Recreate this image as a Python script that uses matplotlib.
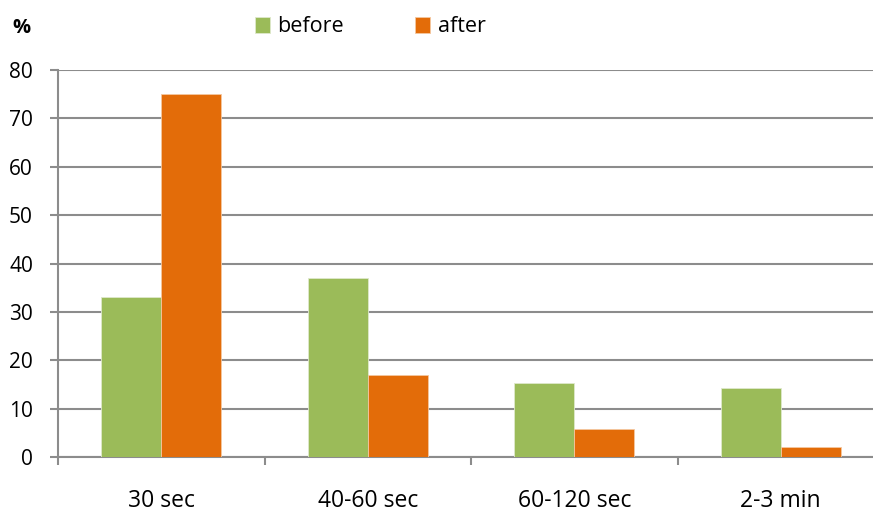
import numpy as np
import matplotlib
matplotlib.use('Agg')
from matplotlib import pyplot as plt

categories = ['30 sec', '40-60 sec', '60-120 sec', '2-3 min']
before = [33.1, 37.1, 15.3, 14.3]
after = [75.1, 16.9, 5.7, 2.1]
yticks = [0, 10, 20, 30, 40, 50, 60, 70, 80]

plt.rcParams['font.family'] = ['Open Sans', 'DejaVu Sans']

W, H = 873, 512
fig = plt.figure(figsize=(W / 100, H / 100), dpi=100)
ax = fig.add_axes([58 / W, 55 / H, (884 - 58) / W, (457 - 70) / H])

x = np.arange(len(categories))
bw = 0.29
ax.bar(x - bw / 2, before, bw, color='#9BBB59', edgecolor='#dfe9cc', linewidth=0.6, label='before', zorder=3)
ax.bar(x + bw / 2, after, bw, color='#E36C09', edgecolor='#f4c7a0', linewidth=0.6, label='after', zorder=3)

ax.set_xlim(-0.5, len(categories) - 0.5)
ax.set_ylim(0, 80)
ax.set_yticks(yticks)
ax.yaxis.grid(True, color='#8c8c8c', linewidth=1.5, zorder=0)
ax.set_axisbelow(True)

for s in ['top', 'right']:
    ax.spines[s].set_visible(False)
ax.spines['left'].set_color('#8c8c8c')
ax.spines['left'].set_linewidth(1.5)
ax.spines['bottom'].set_color('#8c8c8c')
ax.spines['bottom'].set_linewidth(1.5)

# category boundary ticks, labels centered in each slot
ax.set_xticks(np.arange(-0.5, len(categories), 1.0))
ax.set_xticklabels([])
ax.set_xticks(x, minor=True)
ax.set_xticklabels(categories, minor=True)
ax.tick_params(axis='x', which='major', length=6, width=1.5, color='#8c8c8c', direction='out')
ax.tick_params(axis='x', which='minor', length=0, pad=23, labelsize=16.5)
ax.tick_params(axis='y', length=6, width=1.5, color='#8c8c8c', labelsize=15, pad=12)

fig.text(21 / W, 1 - 28 / H, '%', fontsize=14.5, fontweight='bold', ha='center', va='center')

fig.legend(loc='center', bbox_to_anchor=(370 / W, 1 - 27 / H), ncol=2, frameon=False,
           fontsize=15.5, handlelength=0.7, handleheight=0.7, handletextpad=0.35,
           columnspacing=3.3)

fig.savefig('out.png', dpi=100)
